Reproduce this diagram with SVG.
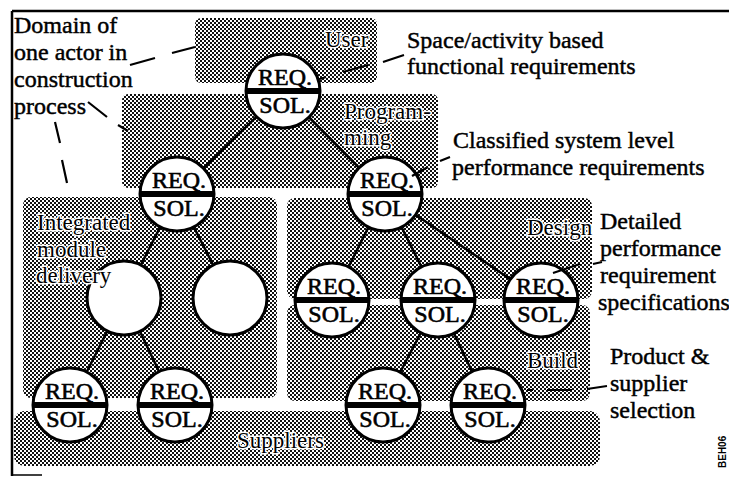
<svg xmlns="http://www.w3.org/2000/svg" width="729" height="477" viewBox="0 0 729 477">
  <defs>
    <!-- halftone screen used for the actor domains -->
    <pattern id="screen" width="4" height="4" patternUnits="userSpaceOnUse">
      <rect width="4" height="4" fill="#fff"/>
      <rect width="2" height="2" fill="#111"/>
      <rect x="2" y="2" width="2" height="2" fill="#111"/>
    </pattern>
  </defs>
  <style>
    .frame { stroke: #000; stroke-width: 2.5; fill: none; }
    .domain { fill: url(#screen); }
    .wire { stroke: #000; stroke-width: 2.5; fill: none; }
    .lead { stroke: #000; stroke-width: 2.2; fill: none; }
    .ring { fill: #fff; stroke: #000; stroke-width: 3; }
    .band { stroke: #000; stroke-width: 6; }
    .nt { font-size: 24px; text-anchor: middle; fill: #000; stroke: #000; stroke-width: 0.6; }
    .lbl { font-size: 24px; fill: #000; stroke: #000; stroke-width: 0.45; }
    .dom { font-size: 23px; fill: #000; stroke: #fff; stroke-width: 3; paint-order: stroke; stroke-linejoin: round; }
    .code { font-size: 10px; font-weight: bold; fill: #000; }
  </style>

  <rect width="729" height="477" fill="#fff"/>

  <!-- page frame -->
  <g id="frame">
    <path class="frame" d="M12,11 H729 M12,11 V476"/>
    <path d="M12,475 H42" stroke="#000" stroke-width="1.5"/>
  </g>

  <!-- actor domains (screened areas) -->
  <g id="domains">
    <rect id="domain-user" class="domain" x="195" y="18" width="182" height="65" rx="6"/>
    <rect id="domain-programming" class="domain" x="122" y="94" width="316" height="94" rx="6"/>
    <rect id="domain-integrated" class="domain" x="23" y="197" width="254" height="201" rx="8"/>
    <rect id="domain-design" class="domain" x="287" y="198" width="305" height="101" rx="8"/>
    <rect id="domain-build" class="domain" x="287" y="305" width="303" height="96" rx="8"/>
    <rect id="domain-suppliers" class="domain" x="14" y="411" width="586" height="55" rx="10"/>
  </g>

  <!-- tree connectors -->
  <g id="connectors">
    <path class="wire" d="M283,91 L177,194 M283,91 L385,194"/>
    <path class="wire" d="M177,194 L124,298 M177,194 L230,298"/>
    <path class="wire" d="M124,298 L70,405 M124,298 L175,405"/>
    <path class="wire" d="M385,194 L332,300 M385,194 L438,300 M385,194 L541,300"/>
    <path class="wire" d="M438,300 L383,405 M438,300 L488,405"/>
  </g>

  <!-- requirement / solution nodes -->
  <g font-family="Liberation Serif, DejaVu Serif, serif">
    <g id="node-user">
      <circle class="ring" cx="283" cy="91" r="37"/>
      <line class="band" x1="246" y1="91" x2="320" y2="91"/>
      <text class="nt" x="285" y="85">REQ.</text>
      <text class="nt" x="285" y="113">SOL.</text>
    </g>
    <g id="node-prog-left">
      <circle class="ring" cx="177" cy="194" r="37"/>
      <line class="band" x1="140" y1="194" x2="214" y2="194"/>
      <text class="nt" x="179" y="188">REQ.</text>
      <text class="nt" x="179" y="216">SOL.</text>
    </g>
    <g id="node-prog-right">
      <circle class="ring" cx="385" cy="194" r="37"/>
      <line class="band" x1="348" y1="194" x2="422" y2="194"/>
      <text class="nt" x="387" y="188">REQ.</text>
      <text class="nt" x="387" y="216">SOL.</text>
    </g>
    <g id="node-module-a">
      <circle class="ring" cx="124" cy="298" r="37"/>
    </g>
    <g id="node-module-b">
      <circle class="ring" cx="230" cy="298" r="37"/>
    </g>
    <g id="node-supply-a">
      <circle class="ring" cx="70" cy="405" r="37"/>
      <line class="band" x1="33" y1="405" x2="107" y2="405"/>
      <text class="nt" x="72" y="399">REQ.</text>
      <text class="nt" x="72" y="427">SOL.</text>
    </g>
    <g id="node-supply-b">
      <circle class="ring" cx="175" cy="405" r="37"/>
      <line class="band" x1="138" y1="405" x2="212" y2="405"/>
      <text class="nt" x="177" y="399">REQ.</text>
      <text class="nt" x="177" y="427">SOL.</text>
    </g>
    <g id="node-design-a">
      <circle class="ring" cx="332" cy="300" r="37"/>
      <line class="band" x1="295" y1="300" x2="369" y2="300"/>
      <text class="nt" x="334" y="294">REQ.</text>
      <text class="nt" x="334" y="322">SOL.</text>
    </g>
    <g id="node-design-b">
      <circle class="ring" cx="438" cy="300" r="37"/>
      <line class="band" x1="401" y1="300" x2="475" y2="300"/>
      <text class="nt" x="440" y="294">REQ.</text>
      <text class="nt" x="440" y="322">SOL.</text>
    </g>
    <g id="node-design-c">
      <circle class="ring" cx="541" cy="300" r="37"/>
      <line class="band" x1="504" y1="300" x2="578" y2="300"/>
      <text class="nt" x="543" y="294">REQ.</text>
      <text class="nt" x="543" y="322">SOL.</text>
    </g>
    <g id="node-build-a">
      <circle class="ring" cx="383" cy="405" r="37"/>
      <line class="band" x1="346" y1="405" x2="420" y2="405"/>
      <text class="nt" x="385" y="399">REQ.</text>
      <text class="nt" x="385" y="427">SOL.</text>
    </g>
    <g id="node-build-b">
      <circle class="ring" cx="488" cy="405" r="37"/>
      <line class="band" x1="451" y1="405" x2="525" y2="405"/>
      <text class="nt" x="490" y="399">REQ.</text>
      <text class="nt" x="490" y="427">SOL.</text>
    </g>
  </g>

  <!-- domain names, printed over the screen and the nodes -->
  <g id="domain-labels" font-family="Liberation Serif, DejaVu Serif, serif">
    <text class="dom" x="325" y="47">User</text>
    <text class="dom" x="344" y="119">Program-</text>
    <text class="dom" x="344" y="145">ming</text>
    <text class="dom" x="37" y="230">Integrated</text>
    <text class="dom" x="37" y="257">module</text>
    <text class="dom" x="36" y="283">delivery</text>
    <text class="dom" x="527" y="235">Design</text>
    <text class="dom" x="527" y="368">Build</text>
    <text class="dom" x="237" y="448">Suppliers</text>
  </g>

  <!-- annotations and their leader lines -->
  <g font-family="Liberation Serif, DejaVu Serif, serif">
    <g id="note-domain">
      <text class="lbl" x="14" y="33">Domain of</text>
      <text class="lbl" x="14" y="60">one actor in</text>
      <text class="lbl" x="14" y="87">construction</text>
      <text class="lbl" x="14" y="114">process</text>
      <path class="lead" d="M130,65 L155,58 M172,53 L195,47"/>
      <path class="lead" d="M88,102 L107,117 M118,125 L128,131"/>
      <path class="lead" d="M55,122 L60,143 M62,160 L67,183"/>
    </g>
    <g id="note-space">
      <text class="lbl" x="407" y="48">Space/activity based</text>
      <text class="lbl" x="407" y="74">functional requirements</text>
      <path class="lead" d="M320,79 L326,77 M343,72 L368,65 M383,62 L404,55"/>
    </g>
    <g id="note-classified">
      <text class="lbl" x="453" y="148">Classified system level</text>
      <text class="lbl" x="452" y="175">performance requirements</text>
      <path class="lead" d="M450,157 L440,161 M428,167 L412,176"/>
    </g>
    <g id="note-detailed">
      <text class="lbl" x="600" y="229" font-size="23.5">Detailed</text>
      <text class="lbl" x="600" y="256" font-size="23.5">performance</text>
      <text class="lbl" x="600" y="283" font-size="23.5">requirement</text>
      <text class="lbl" x="598" y="310" font-size="23.5">specifications</text>
      <path class="lead" d="M553,273 L580,264 M593,264 L602,262"/>
    </g>
    <g id="note-product">
      <text class="lbl" x="610" y="364">Product &amp;</text>
      <text class="lbl" x="610" y="391">supplier</text>
      <text class="lbl" x="610" y="418">selection</text>
      <path class="lead" d="M527,390 L533,390 M547,390 L572,390 M587,389 L607,386"/>
    </g>
  </g>
  <text class="code" font-family="Liberation Sans, Arial, sans-serif" transform="translate(726,468) rotate(-90)">BEH06</text>
</svg>
